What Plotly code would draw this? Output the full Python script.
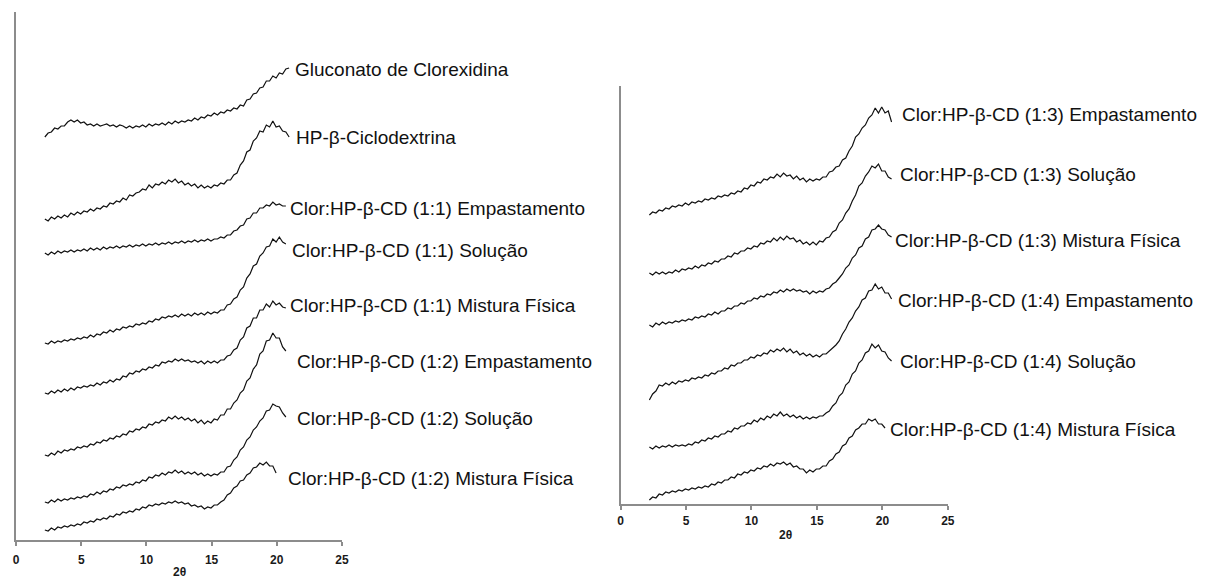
import numpy as np
import plotly.graph_objects as go

# 2θ sampling grid (degrees), shared by every diffractogram
two_theta = np.round(np.arange(2.2, 20.96, 0.25), 2)

# ---- left panel: intensities (arbitrary units, stacked) ----
gluconato = [
    403, 407, 408, 412, 411, 414, 414, 418, 420, 418,
    420, 417, 418, 415, 416, 414, 416, 414, 415, 416,
    414, 415, 413, 415, 414, 412, 414, 412, 414, 413,
    415, 413, 416, 414, 416, 415, 417, 415, 418, 416,
    419, 417, 419, 418, 420, 419, 422, 420, 423, 422,
    425, 424, 427, 425, 428, 427, 430, 429, 432, 431,
    435, 434, 440, 441, 446, 447, 452, 453, 459, 459,
    464, 462, 467, 466, 471, 472,
]
hp_cd = [
    321, 319, 323, 321, 324, 322, 325, 323, 327, 325,
    328, 326, 329, 328, 331, 329, 332, 331, 334, 333,
    337, 336, 339, 338, 342, 340, 345, 344, 347, 348,
    351, 350, 355, 352, 356, 355, 358, 356, 360, 358,
    361, 357, 359, 355, 357, 354, 356, 352, 355, 352,
    354, 352, 355, 354, 357, 356, 360, 360, 365, 367,
    375, 379, 388, 390, 399, 402, 409, 408, 415, 413,
    419, 413, 414, 409, 408, 403,
]
c11_emp = [
    287, 285, 288, 286, 289, 287, 289, 288, 290, 288,
    290, 289, 291, 289, 292, 290, 292, 290, 293, 291,
    293, 292, 294, 292, 294, 293, 295, 293, 295, 294,
    296, 294, 296, 295, 297, 295, 297, 296, 298, 296,
    298, 297, 299, 297, 299, 298, 300, 298, 300, 299,
    301, 299, 301, 301, 303, 302, 305, 305, 309, 310,
    314, 315, 321, 322, 327, 327, 332, 332, 335, 334,
    338, 335, 336, 334, 334,
]
c11_sol = [
    197, 196, 199, 197, 199, 198, 200, 199, 201, 200,
    202, 201, 203, 202, 205, 203, 206, 205, 208, 207,
    210, 208, 211, 210, 213, 212, 214, 213, 216, 215,
    217, 216, 219, 218, 221, 220, 223, 222, 224, 223,
    225, 223, 226, 224, 226, 224, 227, 225, 227, 225,
    228, 226, 228, 227, 230, 230, 235, 236, 241, 243,
    250, 253, 262, 266, 274, 276, 284, 287, 293, 294,
    301, 298, 303, 298, 296,
]
c11_mf = [
    147, 146, 149, 147, 150, 148, 151, 149, 152, 150,
    153, 152, 154, 153, 155, 154, 157, 155, 158, 157,
    160, 158, 161, 160, 164, 163, 167, 166, 169, 168,
    171, 170, 173, 172, 175, 174, 178, 177, 179, 178,
    181, 179, 181, 179, 180, 178, 179, 177, 179, 176,
    179, 177, 179, 177, 180, 180, 184, 185, 190, 192,
    200, 203, 212, 214, 222, 222, 230, 230, 236, 233,
    239, 235, 237, 233, 232,
]
c12_emp = [
    85, 84, 87, 85, 89, 87, 90, 89, 91, 90,
    93, 92, 94, 93, 96, 95, 98, 97, 100, 99,
    102, 101, 104, 103, 106, 105, 109, 108, 111, 110,
    113, 112, 116, 115, 118, 117, 120, 119, 123, 121,
    124, 121, 123, 120, 122, 119, 121, 117, 120, 116,
    119, 117, 121, 120, 125, 125, 131, 131, 137, 140,
    147, 150, 159, 162, 171, 175, 186, 189, 199, 200,
    207, 202, 202, 193, 189,
]
c12_sol = [
    38, 37, 40, 38, 41, 39, 41, 40, 42, 41,
    43, 42, 44, 43, 46, 45, 48, 46, 49, 48,
    51, 50, 53, 52, 55, 54, 56, 55, 58, 57,
    60, 59, 63, 62, 65, 64, 67, 65, 68, 67,
    70, 67, 69, 66, 68, 66, 68, 65, 67, 64,
    66, 64, 66, 65, 68, 68, 73, 74, 80, 83,
    90, 93, 100, 103, 110, 113, 119, 122, 129, 130,
    136, 134, 133, 127, 123,
]
c12_mf = [
    10, 9, 12, 10, 13, 12, 14, 13, 15, 14,
    16, 15, 18, 17, 19, 18, 21, 20, 22, 21,
    24, 23, 26, 25, 28, 27, 29, 28, 31, 30,
    33, 32, 35, 34, 36, 35, 37, 36, 38, 37,
    39, 37, 38, 36, 37, 34, 35, 33, 34, 31,
    33, 32, 35, 35, 38, 40, 45, 47, 52, 54,
    59, 60, 65, 67, 72, 73, 77, 75, 78, 74,
    74, 67,
]

# ---- right panel ----
c13_emp = [
    289, 292, 291, 294, 293, 296, 295, 298, 297, 299,
    298, 301, 299, 302, 301, 303, 302, 305, 304, 306,
    305, 308, 307, 309, 308, 311, 310, 313, 312, 316,
    315, 319, 318, 322, 321, 325, 324, 327, 326, 330,
    327, 331, 328, 329, 325, 328, 324, 326, 322, 325,
    323, 325, 324, 327, 327, 332, 333, 337, 338, 344,
    346, 353, 358, 367, 370, 376, 379, 386, 389, 396,
    391, 397, 391, 393, 382,
]
c13_sol = [
    231, 229, 232, 230, 232, 230, 232, 231, 234, 232,
    235, 234, 236, 235, 238, 236, 239, 238, 241, 240,
    243, 242, 245, 245, 248, 247, 251, 250, 253, 253,
    256, 255, 258, 257, 261, 260, 263, 262, 266, 263,
    267, 264, 268, 265, 266, 262, 264, 260, 262, 259,
    262, 259, 263, 262, 266, 267, 272, 274, 281, 284,
    291, 295, 303, 309, 318, 321, 328, 332, 338, 336,
    340, 333, 333, 327, 325,
]
c13_mf = [
    179, 177, 181, 179, 182, 180, 182, 181, 183, 182,
    184, 183, 185, 184, 187, 186, 188, 187, 190, 189,
    192, 190, 193, 193, 196, 195, 198, 198, 201, 200,
    203, 203, 206, 205, 208, 207, 210, 209, 212, 211,
    214, 212, 215, 213, 215, 213, 214, 212, 213, 210,
    213, 211, 213, 212, 215, 216, 220, 222, 226, 230,
    236, 239, 246, 249, 256, 258, 265, 267, 274, 275,
    279, 275, 274, 269, 267,
]
c14_emp = [
    104, 110, 113, 119, 118, 121, 119, 122, 120, 123,
    122, 124, 123, 126, 125, 127, 126, 129, 128, 131,
    130, 133, 133, 136, 135, 139, 138, 141, 141, 144,
    144, 147, 146, 149, 148, 151, 150, 154, 152, 155,
    153, 156, 152, 155, 151, 153, 149, 151, 148, 150,
    147, 149, 147, 150, 150, 153, 155, 159, 163, 170,
    175, 182, 186, 193, 197, 204, 206, 213, 214, 220,
    215, 217, 211, 211, 205,
]
c14_sol = [
    57, 55, 58, 56, 58, 57, 59, 57, 59, 58,
    59, 58, 60, 59, 62, 61, 64, 63, 66, 65,
    68, 67, 70, 70, 73, 72, 76, 75, 78, 78,
    81, 80, 84, 82, 86, 84, 88, 86, 90, 88,
    92, 88, 90, 87, 89, 86, 88, 85, 87, 85,
    87, 86, 88, 88, 91, 93, 98, 101, 108, 111,
    119, 122, 130, 133, 141, 144, 151, 153, 160, 156,
    159, 153, 152, 146, 143,
]
c14_mf = [
    4, 7, 6, 10, 9, 12, 11, 13, 12, 14,
    13, 15, 14, 16, 15, 17, 16, 18, 17, 20,
    19, 22, 21, 24, 24, 27, 26, 30, 29, 32,
    31, 34, 33, 36, 35, 38, 37, 40, 38, 41,
    40, 42, 39, 41, 37, 38, 35, 35, 31, 34,
    32, 35, 35, 38, 38, 43, 45, 50, 52, 58,
    60, 66, 68, 74, 76, 80, 80, 85, 83, 85,
    80, 80, 76,
]

left_series = [gluconato, hp_cd, c11_emp, c11_sol, c11_mf, c12_emp, c12_sol, c12_mf]
left_labels = [
    "Gluconato de Clorexidina",
    "HP-β-Ciclodextrina",
    "Clor:HP-β-CD (1:1) Empastamento",
    "Clor:HP-β-CD (1:1) Solução",
    "Clor:HP-β-CD (1:1) Mistura Física",
    "Clor:HP-β-CD (1:2) Empastamento",
    "Clor:HP-β-CD (1:2) Solução",
    "Clor:HP-β-CD (1:2) Mistura Física",
]
right_series = [c13_emp, c13_sol, c13_mf, c14_emp, c14_sol, c14_mf]
right_labels = [
    "Clor:HP-β-CD (1:3) Empastamento",
    "Clor:HP-β-CD (1:3) Solução",
    "Clor:HP-β-CD (1:3) Mistura Física",
    "Clor:HP-β-CD (1:4) Empastamento",
    "Clor:HP-β-CD (1:4) Solução",
    "Clor:HP-β-CD (1:4) Mistura Física",
]
x_ticks = [0, 5, 10, 15, 20, 25]

# label anchors (2θ, intensity) placed just right of each curve
left_label_pos = [(21.25, 471), (21.32, 403), (20.88, 332), (21.03, 290),
                  (20.88, 235), (21.41, 179), (21.41, 122), (20.73, 62)]
right_label_pos = [(21.36, 389), (21.21, 330), (20.83, 264),
                   (21.05, 204), (21.21, 143), (20.45, 75)]

W, H = 1215, 581


def fx(p):
    return p / W


def fy(p):
    return 1 - p / H


LINE = dict(color="#111111", width=1.2)
AXIS_GREY = "#8c8c8c"
LABEL_FONT = dict(family="Liberation Sans, Arial, sans-serif", size=19, color="#111111")
TICK_FONT = dict(family="Liberation Sans, Arial, sans-serif", size=12, color="#1a1a1a", weight="bold")

fig = go.Figure()
for vals in left_series:
    fig.add_trace(go.Scatter(x=two_theta[:len(vals)], y=vals, mode="lines", line=LINE,
                             xaxis="x", yaxis="y", showlegend=False, hoverinfo="skip"))
for vals in right_series:
    fig.add_trace(go.Scatter(x=two_theta[:len(vals)], y=vals, mode="lines", line=LINE,
                             xaxis="x2", yaxis="y2", showlegend=False, hoverinfo="skip"))

annotations = []
for text, (lx, ly) in zip(left_labels, left_label_pos):
    annotations.append(dict(x=lx, y=ly, xref="x", yref="y", text=text, showarrow=False,
                            xanchor="left", yanchor="middle", font=LABEL_FONT))
for text, (lx, ly) in zip(right_labels, right_label_pos):
    annotations.append(dict(x=lx, y=ly, xref="x2", yref="y2", text=text, showarrow=False,
                            xanchor="left", yanchor="middle", font=LABEL_FONT))
annotations.append(dict(x=fx(178), y=fy(572), xref="paper", yref="paper", text="2θ",
                        showarrow=False, xanchor="center", yanchor="middle", font=TICK_FONT))
annotations.append(dict(x=fx(789), y=fy(535), xref="paper", yref="paper", text="2θ",
                        showarrow=False, xanchor="center", yanchor="middle", font=TICK_FONT))

xaxis_style = dict(range=[0, 25], tickvals=x_ticks, showline=True, linecolor=AXIS_GREY,
                   linewidth=2, ticks="outside", ticklen=4, tickwidth=1.5, tickcolor=AXIS_GREY,
                   showgrid=False, zeroline=False, tickfont=TICK_FONT, fixedrange=True)
yaxis_style = dict(showline=True, linecolor=AXIS_GREY, linewidth=2, showticklabels=False,
                   ticks="", showgrid=False, zeroline=False, fixedrange=True)

fig.update_layout(
    width=W, height=H,
    margin=dict(l=0, r=0, t=0, b=0),
    paper_bgcolor="white", plot_bgcolor="white",
    xaxis=dict(xaxis_style, domain=[fx(13.3), fx(341.7)], anchor="y", ticklabelstandoff=4),
    yaxis=dict(yaxis_style, domain=[fy(540), fy(12)], range=[0, 528], anchor="x"),
    xaxis2=dict(xaxis_style, domain=[fx(622.7), fx(952.7)], anchor="y2", ticklabelstandoff=1),
    yaxis2=dict(yaxis_style, domain=[fy(504), fy(86)], range=[0, 418], anchor="x2"),
    annotations=annotations,
)

fig.write_html("out.html")
